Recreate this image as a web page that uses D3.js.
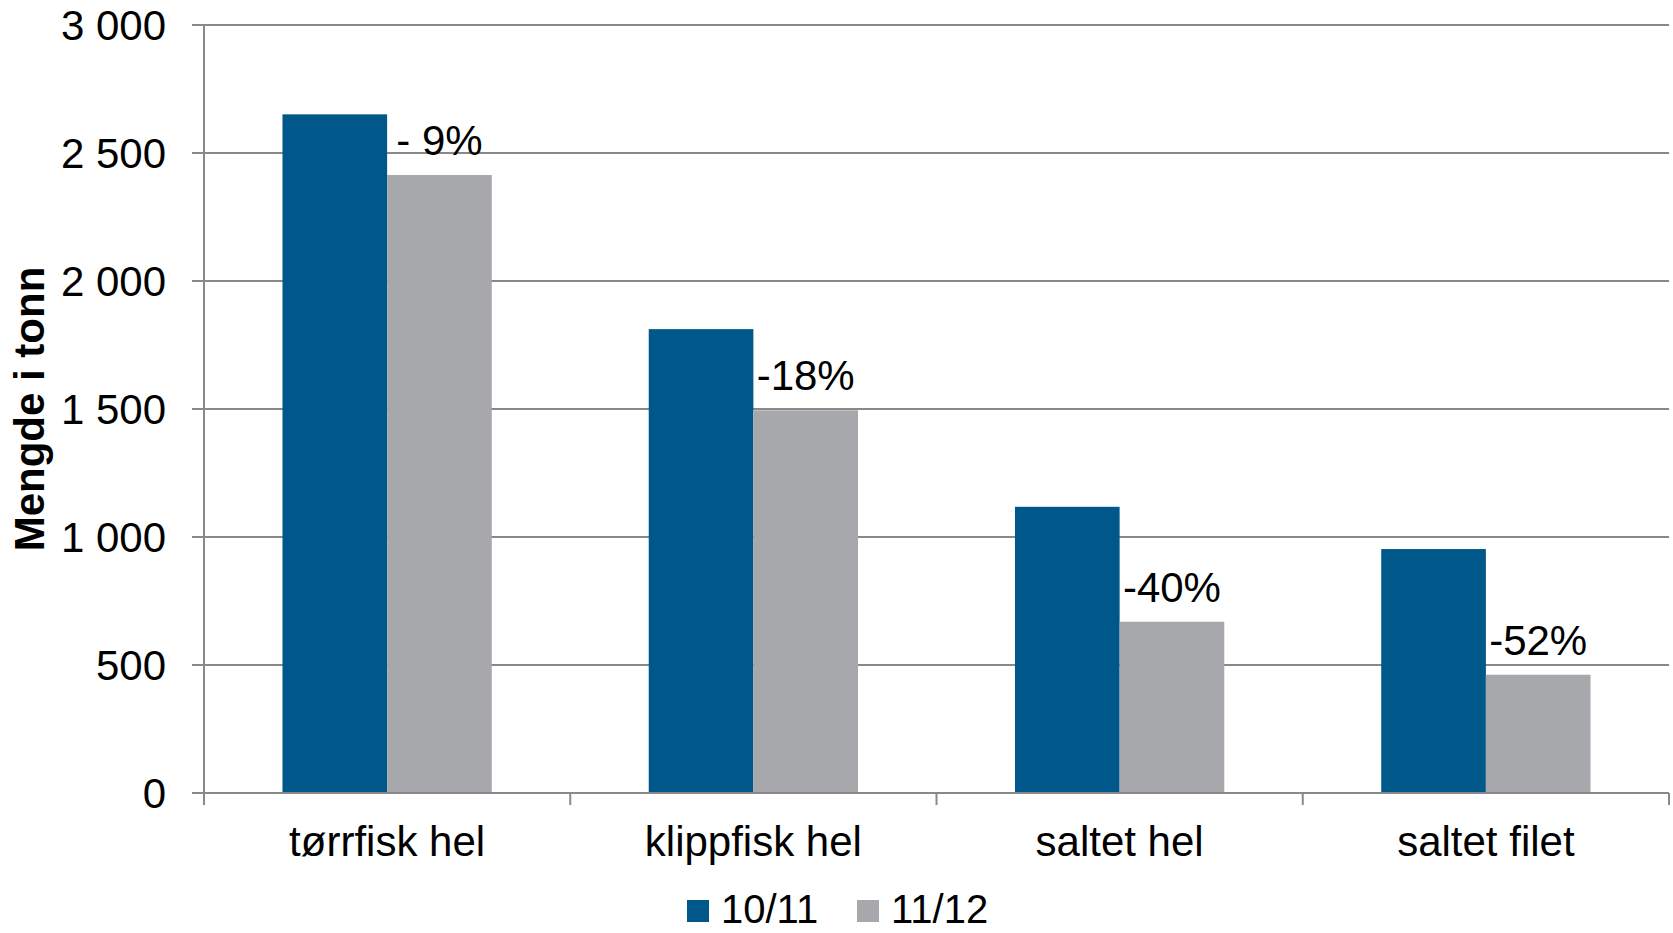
<!DOCTYPE html>
<html>
<head>
<meta charset="utf-8">
<script src="https://cdn.jsdelivr.net/npm/d3@7"></script>
<style>
  html, body { margin: 0; padding: 0; background: #fff; }
  svg { display: block; font-family: "Liberation Sans", Arial, sans-serif; }
</style>
</head>
<body>
<svg id="chart" width="1673" height="933"></svg>
<script>
const categories = ["tørrfisk hel", "klippfisk hel", "saltet hel", "saltet filet"];
const seriesNames = ["10/11", "11/12"];
const values1011 = [2651, 1812, 1118, 953];
const values1112 = [2414, 1495, 669, 462];
const changeLabels = ["- 9%", "-18%", "-40%", "-52%"];
const yTicks = [0, 500, 1000, 1500, 2000, 2500, 3000];
const colors = ["#00578A", "#A7A8AB"];

const svg = d3.select("#chart");
const plotLeft = 204, plotRight = 1669, plotTop = 25, plotBottom = 793;

const x0 = d3.scaleBand().domain(categories).range([plotLeft, plotRight]).padding(0);
const x1 = d3.scaleBand().domain(seriesNames).range([0, x0.bandwidth()])
  .paddingInner(0).paddingOuter(0.75);
const y = d3.scaleLinear().domain([0, 3000]).range([plotBottom, plotTop]);

const fmt = v => d3.format(",")(v).replace(/,/g, " ");

// gridlines + y ticks
svg.append("g").selectAll("line").data(yTicks).join("line")
  .attr("x1", plotLeft - 12).attr("x2", plotRight)
  .attr("y1", d => y(d)).attr("y2", d => y(d))
  .attr("stroke", "#898989").attr("stroke-width", 2);

svg.append("g").selectAll("text").data(yTicks).join("text")
  .attr("x", 166).attr("y", d => y(d)).attr("dy", "0.36em")
  .attr("text-anchor", "end").attr("font-size", 42).attr("fill", "#000")
  .text(fmt);

// bars
const rows = categories.map((c, i) => ({c, vals: [values1011[i], values1112[i]]}));
const groups = svg.append("g").selectAll("g").data(rows).join("g")
  .attr("transform", d => `translate(${x0(d.c)},0)`);
groups.selectAll("rect").data(d => d.vals.map((v, j) => ({s: seriesNames[j], v, j})))
  .join("rect")
  .attr("x", d => x1(d.s)).attr("width", x1.bandwidth())
  .attr("y", d => y(d.v)).attr("height", d => y(0) - y(d.v))
  .attr("fill", d => colors[d.j]);

// change labels above gray bars
groups.append("text")
  .attr("x", x1("11/12") + x1.bandwidth() / 2)
  .attr("y", d => y(d.vals[1]) - 20)
  .attr("text-anchor", "middle").attr("font-size", 42).attr("fill", "#000")
  .text((d, i) => changeLabels[i]);

// x axis line and ticks
svg.append("line").attr("x1", plotLeft).attr("x2", plotRight)
  .attr("y1", plotBottom).attr("y2", plotBottom)
  .attr("stroke", "#898989").attr("stroke-width", 2);
const bounds = [plotLeft].concat(categories.map(c => x0(c) + x0.bandwidth()));
svg.append("g").selectAll("line").data(bounds).join("line")
  .attr("x1", d => d).attr("x2", d => d)
  .attr("y1", plotBottom).attr("y2", plotBottom + 12)
  .attr("stroke", "#898989").attr("stroke-width", 2);
// y axis line
svg.append("line").attr("x1", plotLeft).attr("x2", plotLeft)
  .attr("y1", plotTop).attr("y2", plotBottom + 12)
  .attr("stroke", "#898989").attr("stroke-width", 2);

// category labels
svg.append("g").selectAll("text").data(categories).join("text")
  .attr("x", d => x0(d) + x0.bandwidth() / 2).attr("y", 856)
  .attr("text-anchor", "middle").attr("font-size", 42).attr("fill", "#000")
  .text(d => d);

// y axis title
svg.append("text")
  .attr("transform", `translate(44, ${(plotTop + plotBottom) / 2}) rotate(-90)`)
  .attr("text-anchor", "middle").attr("font-size", 42).attr("font-weight", "bold")
  .attr("fill", "#000").text("Mengde i tonn");

// legend
const legendX = [687, 857];
const lg = svg.append("g").selectAll("g").data(seriesNames).join("g")
  .attr("transform", (d, i) => `translate(${legendX[i]},900)`);
lg.append("rect").attr("width", 22).attr("height", 22).attr("fill", (d, i) => colors[i]);
lg.append("text").attr("x", 34).attr("y", 23).attr("font-size", 40).attr("fill", "#000").text(d => d);
</script>
</body>
</html>
